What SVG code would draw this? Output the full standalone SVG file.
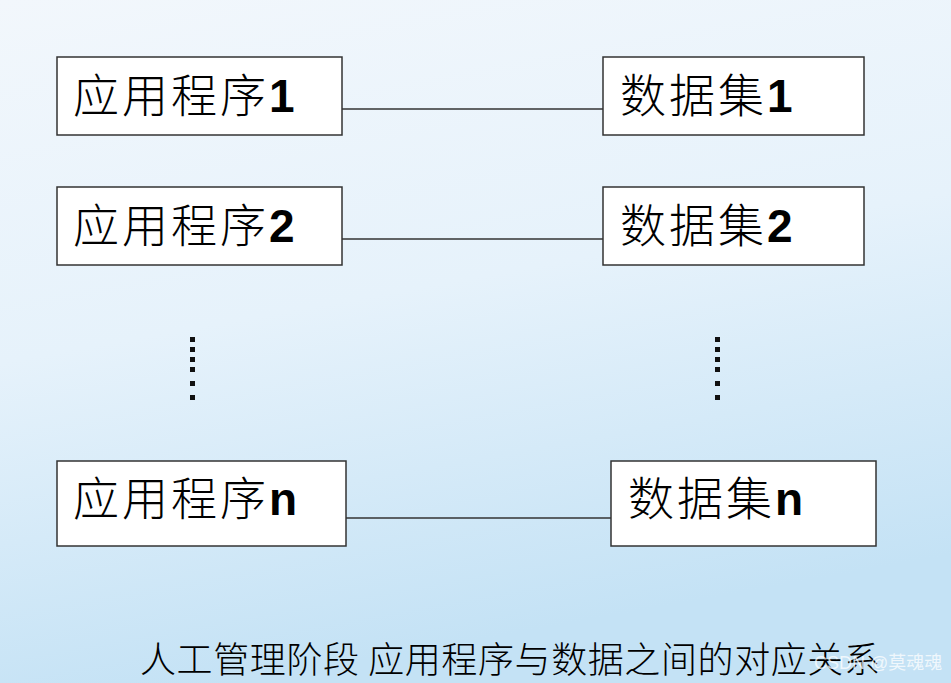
<svg xmlns="http://www.w3.org/2000/svg" width="951" height="683" viewBox="0 0 951 683">
<defs>
<linearGradient id="bg" x1="0" y1="0" x2="0.25" y2="1">
<stop offset="0" stop-color="#f2f7fc"/>
<stop offset="0.5" stop-color="#e6f2fb"/>
<stop offset="1" stop-color="#c4e2f5"/>
</linearGradient>
<style>
.box{fill:#ffffff;stroke:#333333;stroke-width:1.5}
.lbl{font-family:"Noto Sans CJK SC",sans-serif;font-size:46px;font-weight:300;letter-spacing:3px;fill:#000}
.num{font-family:"Liberation Sans",Arial,sans-serif;font-weight:bold;letter-spacing:0}
.conn{stroke:#333333;stroke-width:1.5;fill:none}
.dot{fill:#111111}
.cap{font-family:"Noto Sans CJK SC",sans-serif;font-size:36px;font-weight:300;letter-spacing:0.6px;fill:#000}
.wm{font-family:"Liberation Sans","Noto Sans CJK SC",sans-serif;font-size:18px;fill:#ffffff;fill-opacity:0.75}
</style>
</defs>
<rect x="0" y="0" width="951" height="683" fill="url(#bg)"/>
<g id="connectors">
<line class="conn" x1="342" y1="109" x2="603" y2="109"/>
<line class="conn" x1="342" y1="239" x2="603" y2="239"/>
<line class="conn" x1="346" y1="518" x2="611" y2="518"/>
</g>
<g id="app1"><rect class="box" x="57" y="57" width="285" height="78"/><text class="lbl" x="73" y="112">应用程序<tspan class="num">1</tspan></text></g>
<g id="app2"><rect class="box" x="57" y="187" width="285" height="78"/><text class="lbl" x="73" y="242">应用程序<tspan class="num">2</tspan></text></g>
<g id="appn"><rect class="box" x="57" y="461" width="289" height="85"/><text class="lbl" x="73" y="515">应用程序<tspan class="num">n</tspan></text></g>
<g id="data1"><rect class="box" x="603" y="57" width="261" height="78"/><text class="lbl" x="620" y="112">数据集<tspan class="num">1</tspan></text></g>
<g id="data2"><rect class="box" x="603" y="187" width="261" height="78"/><text class="lbl" x="620" y="242">数据集<tspan class="num">2</tspan></text></g>
<g id="datan"><rect class="box" x="611" y="461" width="265" height="85"/><text class="lbl" x="628" y="515">数据集<tspan class="num">n</tspan></text></g>
<g id="dots-left">
<rect class="dot" x="190" y="337" width="5" height="5"/>
<rect class="dot" x="190" y="347" width="5" height="5"/>
<rect class="dot" x="190" y="357" width="5" height="5"/>
<rect class="dot" x="190" y="367" width="5" height="5"/>
<rect class="dot" x="190" y="381" width="5" height="5"/>
<rect class="dot" x="190" y="395" width="5" height="5"/>
</g>
<g id="dots-right">
<rect class="dot" x="715" y="337" width="5" height="5"/>
<rect class="dot" x="715" y="347" width="5" height="5"/>
<rect class="dot" x="715" y="357" width="5" height="5"/>
<rect class="dot" x="715" y="367" width="5" height="5"/>
<rect class="dot" x="715" y="381" width="5" height="5"/>
<rect class="dot" x="715" y="395" width="5" height="5"/>
</g>
<text class="cap" x="140" y="673">人工管理阶段 应用程序与数据之间的对应关系</text>
<text class="wm" x="814" y="669">CSDN @莫魂魂</text>
</svg>
